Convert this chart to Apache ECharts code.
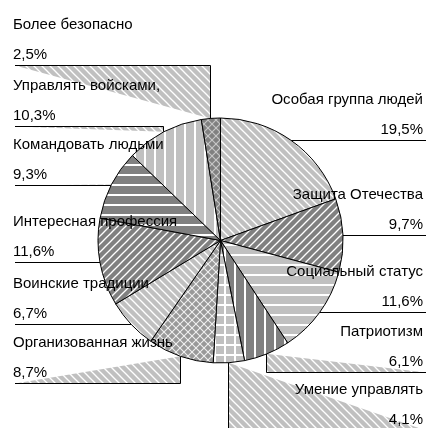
<!DOCTYPE html>
<html>
<head>
<meta charset="utf-8">
<script src="https://cdn.jsdelivr.net/npm/echarts@6/dist/echarts.min.js"></script>
<style>
html, body { margin: 0; padding: 0; background: #fff; }
#chart { width: 426px; height: 428px; }
</style>
</head>
<body>
<div id="chart"></div>
<script>
// ---- data ----
const categories = [
  'Особая группа людей',
  'Защита Отечества',
  'Социальный статус',
  'Патриотизм',
  'Умение управлять',
  'Организованная жизнь',
  'Воинские традиции',
  'Интересная профессия',
  'Командовать людьми',
  'Управлять войсками,',
  'Более безопасно'
];
const values = [19.5, 9.7, 11.6, 6.1, 4.1, 8.7, 6.7, 11.6, 9.3, 10.3, 2.5];

// ---- layout (label rows; null = row at the slice edge) ----
const leaderRowY = [null, null, null, 372, 430, 383, null, null, 185, 126, 65];
const slicePatterns = ['bdiagL', 'fdiagD', 'horizL', 'vertD', 'gridL', 'diamM', 'bdiagL', 'fdiagD', 'horizD', 'vertL', 'diamD'];

const CX = 220.5, CY = 240.5, R = 122.5;
const TEXT_LEFT = 13, TEXT_RIGHT = 423, LINE_LEFT = 15, LINE_RIGHT = 426;
const FONT = "'Liberation Sans', Arial, sans-serif";
const LIGHT = '#c0c0c0', DARK = '#808080';

function tile(bg, fg, kinds, s, lw) {
  const c = document.createElement('canvas');
  c.width = s; c.height = s;
  const g = c.getContext('2d');
  g.fillStyle = bg; g.fillRect(0, 0, s, s);
  g.strokeStyle = fg; g.fillStyle = fg; g.lineWidth = lw;
  const line = (x1, y1, x2, y2) => { g.beginPath(); g.moveTo(x1, y1); g.lineTo(x2, y2); g.stroke(); };
  kinds.forEach(k => {
    if (k === 'b') for (let j = -1; j <= 1; j++) line(j * s - 2, -2, j * s + s + 2, s + 2);
    if (k === 'f') for (let j = 0; j <= 2; j++) line(j * s + 2, -2, j * s - s - 2, s + 2);
    if (k === 'h') g.fillRect(0, Math.round(s / 2 - lw / 2), s, lw);
    if (k === 'v') g.fillRect(Math.round(s / 2 - lw / 2), 0, lw, s);
  });
  return { image: c, repeat: 'repeat' };
}
const patternDefs = {
  bdiagL: () => tile(LIGHT, '#ffffff', ['b'], 8, 1.3),
  fdiagD: () => tile(DARK, '#ffffff', ['f'], 8, 1.3),
  horizL: () => tile(LIGHT, '#ffffff', ['h'], 10, 2),
  horizD: () => tile(DARK, '#ffffff', ['h'], 10, 2),
  vertL: () => tile(LIGHT, '#ffffff', ['v'], 10, 2),
  vertD: () => tile(DARK, '#ffffff', ['v'], 10, 2),
  gridL: () => tile(LIGHT, '#ffffff', ['h', 'v'], 10, 2),
  diamM: () => tile('#999999', '#f0f0f0', ['b', 'f'], 8, 1.1),
  diamD: () => tile(DARK, '#c8c8c8', ['b', 'f'], 8, 1.1)
};
const bandPattern = patternDefs.bdiagL();

// slice mid-angle edge points derived from the values
const total = values.reduce((a, b) => a + b, 0);
let acc = 0;
const edgePts = values.map(v => {
  const mid = (acc + v / 2) / total * 2 * Math.PI;
  acc += v;
  return [CX + R * Math.sin(mid), CY - R * Math.cos(mid)];
});
function leader(i) {
  const [ex, ey] = edgePts[i];
  const right = ex > CX;
  const hasRow = leaderRowY[i] != null;
  const y = Math.round((hasRow ? leaderRowY[i] : ey) - 0.5) + 0.5;
  const x = Math.round(ex - 0.5) + 0.5;
  const endX = right ? LINE_RIGHT : LINE_LEFT;
  const pts = hasRow ? [[x, ey], [x, y], [endX, y]] : [[ex, y], [ex, y], [endX, y]];
  return { right, y, pts, hasRow };
}

const bands = [];
values.forEach((v, i) => {
  const L = leader(i);
  if (L.hasRow) {
    bands.push({ type: 'polygon', z: 1, silent: true, shape: { points: L.pts }, style: { fill: bandPattern, stroke: null, lineWidth: 0 } });
  }
});

const chart = echarts.init(document.getElementById('chart'), null, { renderer: 'canvas' });
chart.setOption({
  animation: false,
  backgroundColor: '#ffffff',
  graphic: { elements: bands },
  series: [{
    type: 'pie',
    z: 2,
    center: [CX, CY],
    radius: R,
    startAngle: 90,
    clockwise: true,
    avoidLabelOverlap: false,
    emphasis: { disabled: true },
    silent: true,
    itemStyle: { borderColor: '#000', borderWidth: 1 },
    label: {
      show: true,
      position: 'outside',
      color: '#000',
      fontFamily: FONT,
      fontSize: 15,
      lineHeight: 30,
      formatter: p => p.name + '\n' + values[p.dataIndex].toFixed(1).replace('.', ',') + '%'
    },
    labelLine: { show: true, length: 10, length2: 10, lineStyle: { color: '#000', width: 1 } },
    labelLayout: params => {
      const L = leader(params.dataIndex);
      return {
        x: L.right ? TEXT_RIGHT : TEXT_LEFT,
        y: L.y + 4,
        align: L.right ? 'right' : 'left',
        verticalAlign: 'bottom',
        labelLinePoints: L.pts
      };
    },
    data: categories.map((name, i) => ({
      name,
      value: values[i],
      itemStyle: { color: patternDefs[slicePatterns[i]]() }
    }))
  }]
});
</script>
</body>
</html>
